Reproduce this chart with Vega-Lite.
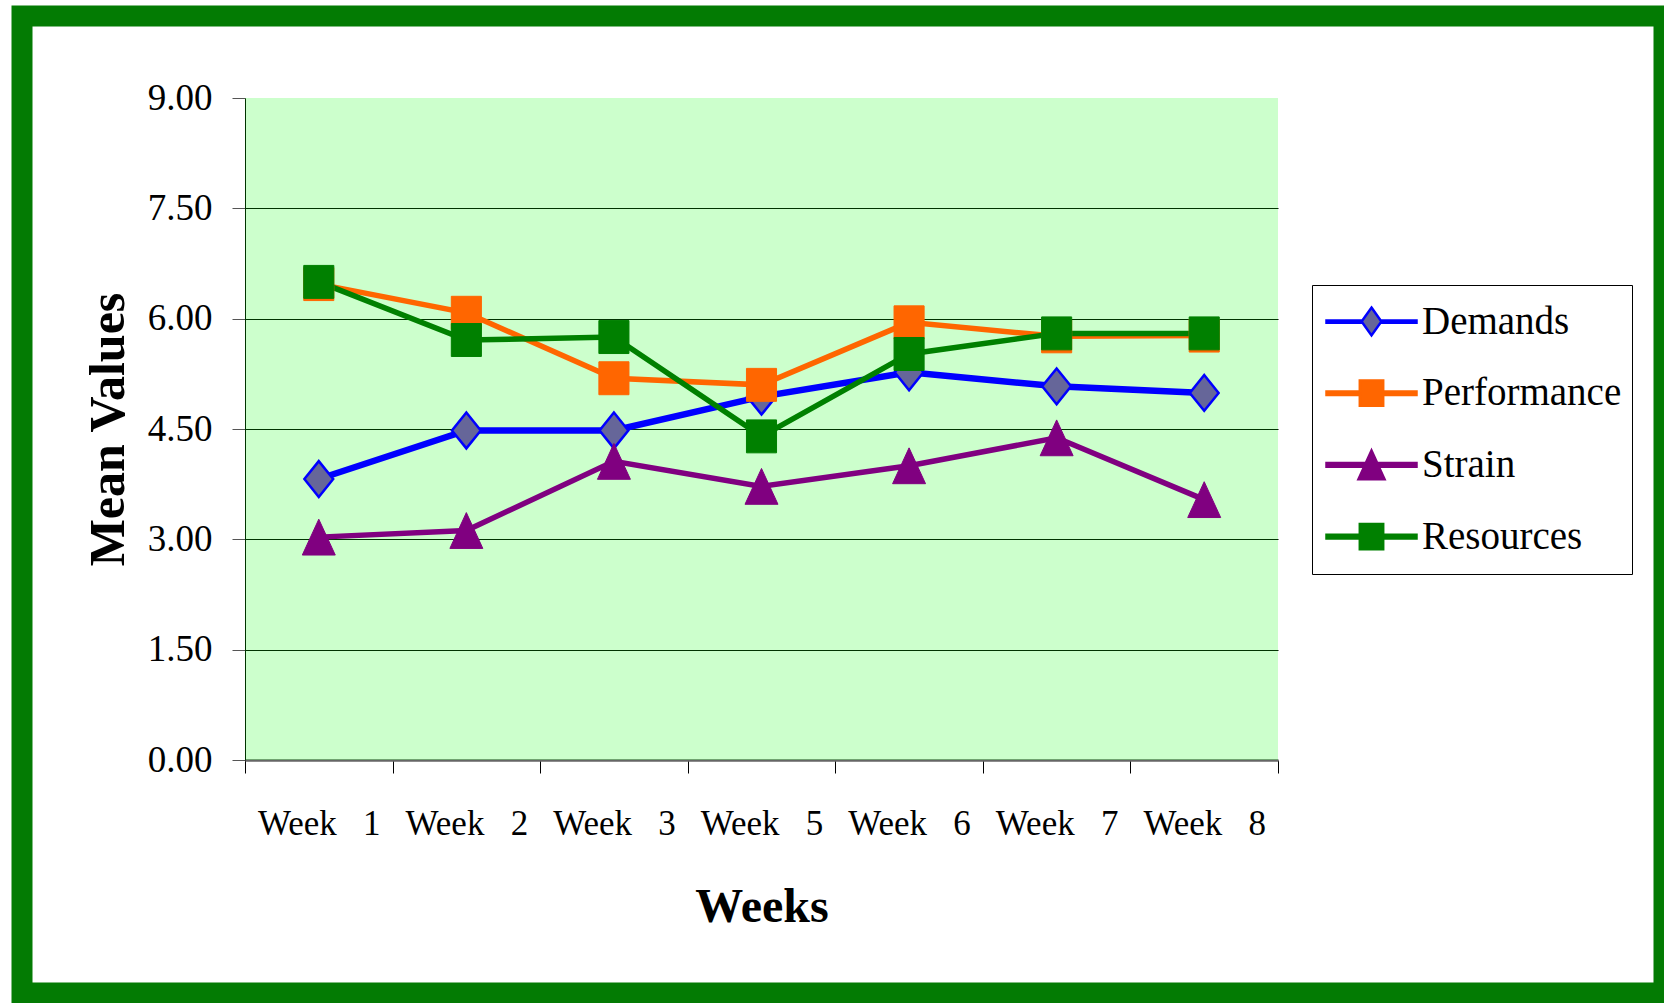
{
  "$schema": "https://vega.github.io/schema/vega-lite/v6.json",
  "width": 1642,
  "height": 977,
  "autosize": {"type": "none"},
  "padding": {"left": 22, "top": 16, "right": 0, "bottom": 10},
  "background": "white",
  "view": {"stroke": "#037B03", "strokeWidth": 21, "fill": "white"},
  "data": {
    "values": [
      {"week": "Week 1", "series": "Demands", "value": 3.82},
      {"week": "Week 2", "series": "Demands", "value": 4.48},
      {"week": "Week 3", "series": "Demands", "value": 4.48},
      {"week": "Week 5", "series": "Demands", "value": 4.94},
      {"week": "Week 6", "series": "Demands", "value": 5.27},
      {"week": "Week 7", "series": "Demands", "value": 5.08},
      {"week": "Week 8", "series": "Demands", "value": 4.99},
      {"week": "Week 1", "series": "Performance", "value": 6.47},
      {"week": "Week 2", "series": "Performance", "value": 6.08},
      {"week": "Week 3", "series": "Performance", "value": 5.19},
      {"week": "Week 5", "series": "Performance", "value": 5.10},
      {"week": "Week 6", "series": "Performance", "value": 5.95},
      {"week": "Week 7", "series": "Performance", "value": 5.76},
      {"week": "Week 8", "series": "Performance", "value": 5.77},
      {"week": "Week 1", "series": "Strain", "value": 3.03},
      {"week": "Week 2", "series": "Strain", "value": 3.12},
      {"week": "Week 3", "series": "Strain", "value": 4.06},
      {"week": "Week 5", "series": "Strain", "value": 3.72},
      {"week": "Week 6", "series": "Strain", "value": 4.00},
      {"week": "Week 7", "series": "Strain", "value": 4.38},
      {"week": "Week 8", "series": "Strain", "value": 3.54},
      {"week": "Week 1", "series": "Resources", "value": 6.50},
      {"week": "Week 2", "series": "Resources", "value": 5.71},
      {"week": "Week 3", "series": "Resources", "value": 5.75},
      {"week": "Week 5", "series": "Resources", "value": 4.40},
      {"week": "Week 6", "series": "Resources", "value": 5.52},
      {"week": "Week 7", "series": "Resources", "value": 5.80},
      {"week": "Week 8", "series": "Resources", "value": 5.80}
    ]
  },
  "resolve": {"scale": {"x": "independent"}},
  "layer": [
    {
      "data": {"values": [{}]},
      "mark": {"type": "rect", "fill": "#00FF00", "fillOpacity": 0.2, "strokeWidth": 0},
      "encoding": {
        "x": {"datum": 0, "type": "quantitative", "scale": {"domain": [0, 1], "range": [223, 1256], "nice": false, "zero": false}, "axis": null},
        "x2": {"datum": 1},
        "y": {"datum": 0, "type": "quantitative", "title": "Mean Values", "scale": {"domain": [0, 9], "range": [744, 82], "nice": false, "zero": true}},
        "y2": {"datum": 9}
      }
    },
    {
      "layer": [
        {
          "mark": {"type": "line", "strokeCap": "round"},
          "encoding": {
            "x": {
              "field": "week", "type": "nominal", "sort": null,
              "scale": {"domain": ["Week 1", "Week 2", "Week 3", "Week 5", "Week 6", "Week 7", "Week 8"], "range": [223, 1256], "paddingInner": 0, "paddingOuter": 0},
              "axis": {
                "title": "Weeks", "orient": "bottom", "offset": -233, "tickBand": "extent",
                "labelExpr": "isValid(datum.value) ? replace(datum.value, ' ', '\u00a0\u00a0\u00a0') : ''",
                "labelAngle": 0, "labelFont": "Liberation Serif", "labelFontSize": 35, "labelColor": "black",
                "labelPadding": 33, "labelOverlap": false, "labelLimit": 400,
                "tickSize": 13, "tickColor": "black", "tickWidth": 1,
                "domainColor": "#666666", "domainWidth": 2.5, "grid": false,
                "titleFont": "Liberation Serif", "titleFontSize": 48, "titleFontWeight": "bold", "titleColor": "black", "titlePadding": 42
              }
            },
            "y": {
              "field": "value", "type": "quantitative",
              "scale": {"domain": [0, 9], "range": [744, 82], "nice": false, "zero": true},
              "axis": {
                "title": "Mean Values", "offset": -223, "values": [0, 1.5, 3, 4.5, 6, 7.5, 9], "format": ".2f",
                "labelFont": "Liberation Serif", "labelFontSize": 37, "labelColor": "black", "labelPadding": 20,
                "tickSize": 13, "tickColor": "#555555", "tickWidth": 1,
                "domainColor": "black", "domainWidth": 1,
                "grid": true, "gridColor": "black", "gridWidth": 1,
                "gridOpacity": {"condition": {"test": "datum.value === 0 || datum.value === 9", "value": 0}, "value": 1},
                "titleFont": "Liberation Serif", "titleFontSize": 50, "titleFontWeight": "bold", "titleColor": "black", "titlePadding": 14
              }
            },
            "color": {
              "field": "series", "type": "nominal",
              "scale": {"domain": ["Demands", "Performance", "Strain", "Resources"], "range": ["#0000FF", "#FF6600", "#800080", "#008000"]},
              "legend": {
                "title": null, "orient": "none", "legendX": 1290, "legendY": 269,
                "padding": 10, "strokeColor": "black", "fillColor": "white", "cornerRadius": 0,
                "labelFont": "Liberation Serif", "labelFontSize": 39, "labelColor": "black", "labelLimit": 400,
                "labelOffset": 4, "symbolOffset": 3, "symbolSize": 8100, "symbolStrokeWidth": 2.5, "symbolOpacity": 1,
                "rowPadding": 18.7, "clipHeight": 53
              }
            },
            "strokeWidth": {"condition": {"test": "datum.series === 'Demands'", "value": 6.5}, "value": 5.5}
          }
        },
        {
          "mark": {"type": "point", "filled": true, "size": 1024, "opacity": 1},
          "encoding": {
            "x": {
              "field": "week", "type": "nominal", "sort": null,
              "scale": {"domain": ["Week 1", "Week 2", "Week 3", "Week 5", "Week 6", "Week 7", "Week 8"], "range": [223, 1256], "paddingInner": 0, "paddingOuter": 0}
            },
            "y": {
              "field": "value", "type": "quantitative",
              "scale": {"domain": [0, 9], "range": [744, 82], "nice": false, "zero": true}
            },
            "shape": {
              "condition": [
                {"test": "datum.series === 'Demands'", "value": "M0,-1.12L0.9,0L0,1.12L-0.9,0Z"},
                {"test": "datum.series === 'Strain'", "value": "M0,-1.12L1.03,1.12L-1.03,1.12Z"}
              ],
              "value": "M-0.94,-1.03L0.94,-1.03L0.94,1.03L-0.94,1.03Z"
            },
            "fill": {
              "condition": [
                {"test": "datum.series === 'Demands'", "value": "#666699"},
                {"test": "datum.series === 'Performance'", "value": "#FF6600"},
                {"test": "datum.series === 'Strain'", "value": "#800080"}
              ],
              "value": "#008000"
            },
            "stroke": {
              "condition": [
                {"test": "datum.series === 'Demands'", "value": "#0000FF"},
                {"test": "datum.series === 'Performance'", "value": "#FF6600"},
                {"test": "datum.series === 'Strain'", "value": "#800080"}
              ],
              "value": "#008000"
            },
            "strokeWidth": {"condition": {"test": "datum.series === 'Demands'", "value": 2.5}, "value": 1}
          }
        },
        {
          "transform": [{"filter": "false"}],
          "mark": {"type": "point", "filled": true, "opacity": 1},
          "encoding": {
            "x": {
              "field": "week", "type": "nominal", "sort": null,
              "scale": {"domain": ["Week 1", "Week 2", "Week 3", "Week 5", "Week 6", "Week 7", "Week 8"], "range": [223, 1256], "paddingInner": 0, "paddingOuter": 0}
            },
            "y": {
              "field": "value", "type": "quantitative",
              "scale": {"domain": [0, 9], "range": [744, 82], "nice": false, "zero": true}
            },
            "shape": {
              "field": "series", "type": "nominal",
              "scale": {
                "domain": ["Demands", "Performance", "Strain", "Resources"],
                "range": [
                  "M-1,-0.025L-0.24,-0.025L-0.24,0.025L-1,0.025Z M0.24,-0.025L1,-0.025L1,0.025L0.24,0.025Z M0,-0.31L0.22,0L0,0.31L-0.22,0Z",
                  "M-1,-0.04L-0.26,-0.04L-0.26,-0.28L0.26,-0.28L0.26,-0.04L1,-0.04L1,0.04L0.26,0.04L0.26,0.28L-0.26,0.28L-0.26,0.04L-1,0.04Z",
                  "M-1,-0.04L-0.127,-0.04L0,-0.32L0.127,-0.04L1,-0.04L1,0.04L0.163,0.04L0.29,0.32L-0.29,0.32L-0.163,0.04L-1,0.04Z",
                  "M-1,-0.04L-0.26,-0.04L-0.26,-0.28L0.26,-0.28L0.26,-0.04L1,-0.04L1,0.04L0.26,0.04L0.26,0.28L-0.26,0.28L-0.26,0.04L-1,0.04Z"
                ]
              },
              "legend": {
                "title": null, "orient": "none", "legendX": 1290, "legendY": 269,
                "padding": 10, "strokeColor": "black", "fillColor": "white", "cornerRadius": 0,
                "labelFont": "Liberation Serif", "labelFontSize": 39, "labelColor": "black", "labelLimit": 400,
                "labelOffset": 4, "symbolOffset": 3, "symbolSize": 8100, "symbolStrokeWidth": 2.5, "symbolOpacity": 1,
                "rowPadding": 18.7, "clipHeight": 53
              }
            },
            "fill": {
              "field": "series", "type": "nominal",
              "scale": {"domain": ["Demands", "Performance", "Strain", "Resources"], "range": ["#666699", "#FF6600", "#800080", "#008000"]},
              "legend": {
                "title": null, "orient": "none", "legendX": 1290, "legendY": 269,
                "padding": 10, "strokeColor": "black", "fillColor": "white", "cornerRadius": 0,
                "labelFont": "Liberation Serif", "labelFontSize": 39, "labelColor": "black", "labelLimit": 400,
                "labelOffset": 4, "symbolOffset": 3, "symbolSize": 8100, "symbolStrokeWidth": 2.5, "symbolOpacity": 1,
                "rowPadding": 18.7, "clipHeight": 53
              }
            },
            "stroke": {
              "field": "series", "type": "nominal",
              "scale": {"domain": ["Demands", "Performance", "Strain", "Resources"], "range": ["#0000FF", "#FF6600", "#800080", "#008000"]},
              "legend": {
                "title": null, "orient": "none", "legendX": 1290, "legendY": 269,
                "padding": 10, "strokeColor": "black", "fillColor": "white", "cornerRadius": 0,
                "labelFont": "Liberation Serif", "labelFontSize": 39, "labelColor": "black", "labelLimit": 400,
                "labelOffset": 4, "symbolOffset": 3, "symbolSize": 8100, "symbolStrokeWidth": 2.5, "symbolOpacity": 1,
                "rowPadding": 18.7, "clipHeight": 53
              }
            }
          }
        }
      ]
    }
  ]
}
